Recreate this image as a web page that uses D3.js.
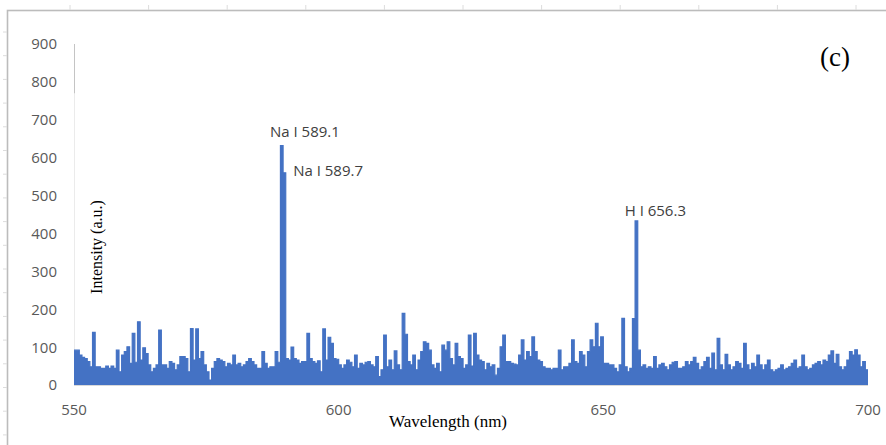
<!DOCTYPE html>
<html>
<head>
<meta charset="utf-8">
<script src="https://cdn.jsdelivr.net/npm/d3@7"></script>
<style>
  html, body { margin: 0; padding: 0; background: #fff; }
  svg { display: block; }
</style>
</head>
<body>
<div id="chart"></div>
<script>
// ── Emission spectrum (c) — intensity vs wavelength ─────────

// Wavelength grid: 550 → 700 nm, 0.5 nm per sample
const WL_START = 550;
const WL_END = 700;
const WL_STEP = 0.5;

// Intensity (a.u.), one value per 0.5 nm sample
const INTENSITY = [
    92, 92, 79, 73, 70, 62, 48, 139, 48, 48,
    44, 44, 50, 44, 50, 44, 92, 35, 79, 88,
    101, 57, 136, 60, 167, 66, 98, 83, 53, 35,
    44, 53, 145, 53, 53, 44, 62, 57, 40, 53,
    75, 75, 70, 35, 149, 66, 148, 70, 88, 53,
    35, 13, 44, 62, 70, 66, 62, 48, 57, 53,
    79, 53, 57, 48, 53, 62, 70, 62, 53, 44,
    44, 88, 57, 44, 48, 48,
    88, 60, 632, 560,
    70, 66, 100, 70, 66, 57, 62, 62, 136, 70,
    62, 57, 64, 35, 148, 66, 126, 110, 70, 68,
    53, 44, 53, 66, 60, 48, 79, 44, 57, 53,
    60, 62, 53, 48, 75, 22, 40, 132, 48, 66,
    40, 90, 53, 40, 189, 134, 62, 53, 79, 40,
    66, 88, 114, 110, 92, 53, 44, 57, 35, 105,
    92, 114, 70, 53, 110, 75, 70, 44, 53, 132,
    50, 136, 79, 66, 62, 40, 57, 48, 53, 26,
    44, 101, 132, 62, 62, 57, 55, 53, 79, 119,
    66, 88, 75, 127, 88, 66, 62, 48, 44, 44,
    40, 44, 44, 92, 40, 48, 48, 57, 119, 62,
    57, 88, 79, 48, 88, 119, 101, 163, 101, 127,
    57, 57, 53, 53, 44, 35, 53, 176, 48, 35,
    44, 175, 433, 92,
    48, 53, 44, 48, 44, 75, 44, 53, 57, 48, 40, 53,
    60, 62, 44, 44, 48, 62, 53, 62, 73, 57,
    40, 48, 62, 73, 44, 84, 40, 123, 53, 40,
    81, 53, 40, 48, 62, 57, 44, 110, 53, 40,
    57, 48, 79, 53, 40, 53, 66, 40, 35, 40,
    44, 53, 40, 44, 48, 57, 66, 44, 48, 79,
    48, 40, 44, 53, 57, 62, 53, 66, 62, 79,
    90, 57, 81, 48, 40, 48, 66, 88, 79, 93,
    79, 48, 62, 40, 40
];

// Axis ticks
const X_TICKS = [550, 600, 650, 700];
const Y_TICKS = [0, 100, 200, 300, 400, 500, 600, 700, 800, 900];

// Peak annotations (label, line wavelength, height where the label sits)
const PEAK_LABELS = ['Na I 589.1', 'Na I 589.7', 'H I 656.3'];
const PEAK_WL = [589.1, 589.7, 656.3];
const PEAK_VAL = [670, 567, 459];

const WIDTH = 886;
const HEIGHT = 445;
const margin = { left: 74, right: 18, top: 44, bottom: 60 };

const svg = d3.select('#chart')
    .append('svg')
    .attr('width', WIDTH)
    .attr('height', HEIGHT)
    .attr('viewBox', [0, 0, WIDTH, HEIGHT]);

// Frame (cropped figure border) + faint ruler marks
svg.append('rect')
    .attr('x', 7.5)
    .attr('y', 10.5)
    .attr('width', 1000)
    .attr('height', 600)
    .attr('fill', 'none')
    .attr('stroke', '#bcbcbc')
    .attr('stroke-width', 1.6);

svg.append('g')
    .attr('stroke', '#dcdcdc')
    .selectAll('line')
    .data(d3.range(70, WIDTH, 78.6))
    .join('line')
    .attr('x1', d => d).attr('x2', d => d)
    .attr('y1', 5).attr('y2', 10);

svg.append('g')
    .attr('stroke', '#dcdcdc')
    .selectAll('line')
    .data(d3.range(32, HEIGHT, 23.7))
    .join('line')
    .attr('x1', 3).attr('x2', 7)
    .attr('y1', d => d).attr('y2', d => d);

// Scales
const x = d3.scaleLinear()
    .domain([WL_START, WL_END])
    .range([margin.left, WIDTH - margin.right]);

const y = d3.scaleLinear()
    .domain([0, 900])
    .range([HEIGHT - margin.bottom, margin.top]);

const data = INTENSITY.map((v, i) => ({ wl: WL_START + i * WL_STEP, v }));

// Axis lines
svg.append('line')
    .attr('x1', x(WL_START) + 0.5).attr('x2', x(WL_START) + 0.5)
    .attr('y1', y(900)).attr('y2', y(0))
    .attr('stroke', '#ebebeb');

svg.append('line')
    .attr('x1', x(WL_START) + 0.5).attr('x2', x(WL_START) + 0.5)
    .attr('y1', y(900)).attr('y2', y(770))
    .attr('stroke', '#c4c4c4');

svg.append('line')
    .attr('x1', x(WL_START)).attr('x2', x(WL_END))
    .attr('y1', y(0) + 0.5).attr('y2', y(0) + 0.5)
    .attr('stroke', '#d9d9d9');

// Spectrum
const area = d3.area()
    .curve(d3.curveStepAfter)
    .x(d => x(d.wl))
    .y0(y(0))
    .y1(d => y(d.v));

const line = d3.line()
    .curve(d3.curveStepAfter)
    .x(d => x(d.wl))
    .y(d => y(d.v));

svg.append('path')
    .datum(data)
    .attr('fill', '#4472c4')
    .attr('d', area);

svg.append('path')
    .datum(data)
    .attr('fill', 'none')
    .attr('stroke', '#4472c4')
    .attr('stroke-width', 1.2)
    .attr('d', line);

// Tick labels
const tickFont = "'Open Sans', sans-serif";

svg.append('g')
    .selectAll('text')
    .data(Y_TICKS)
    .join('text')
    .attr('x', 57)
    .attr('y', d => y(d))
    .attr('dy', '0.36em')
    .attr('text-anchor', 'end')
    .attr('font-family', tickFont)
    .attr('font-size', '15px')
    .attr('fill', '#595959')
    .text(d => d);

svg.append('g')
    .selectAll('text')
    .data(X_TICKS)
    .join('text')
    .attr('x', d => x(d))
    .attr('y', 415)
    .attr('text-anchor', 'middle')
    .attr('font-family', tickFont)
    .attr('font-size', '15px')
    .attr('fill', '#595959')
    .text(d => d);

// Axis titles
svg.append('text')
    .attr('transform', `translate(102, 247) rotate(-90)`)
    .attr('text-anchor', 'middle')
    .attr('font-family', "'Liberation Serif', 'Times New Roman', serif")
    .attr('font-size', '16px')
    .attr('fill', '#000')
    .text('Intensity (a.u.)');

svg.append('text')
    .attr('x', 448)
    .attr('y', 427)
    .attr('text-anchor', 'middle')
    .attr('font-family', "'Liberation Serif', 'Times New Roman', serif")
    .attr('font-size', '17px')
    .attr('fill', '#000')
    .text('Wavelength (nm)');

// Panel tag
svg.append('text')
    .attr('x', 835)
    .attr('y', 66)
    .attr('text-anchor', 'middle')
    .attr('font-family', "'Liberation Serif', 'Times New Roman', serif")
    .attr('font-size', '27px')
    .attr('fill', '#000')
    .text('(c)');

// Peak labels, left-aligned relative to their lines
const peakDx = [-11, 9, -12];

svg.append('g')
    .selectAll('text')
    .data(PEAK_LABELS)
    .join('text')
    .attr('x', (d, i) => x(PEAK_WL[i]) + peakDx[i])
    .attr('y', (d, i) => y(PEAK_VAL[i]))
    .attr('dy', '0.36em')
    .attr('text-anchor', 'start')
    .attr('font-family', tickFont)
    .attr('font-size', '15px')
    .attr('fill', '#404040')
    .text(d => d);
</script>
</body>
</html>
